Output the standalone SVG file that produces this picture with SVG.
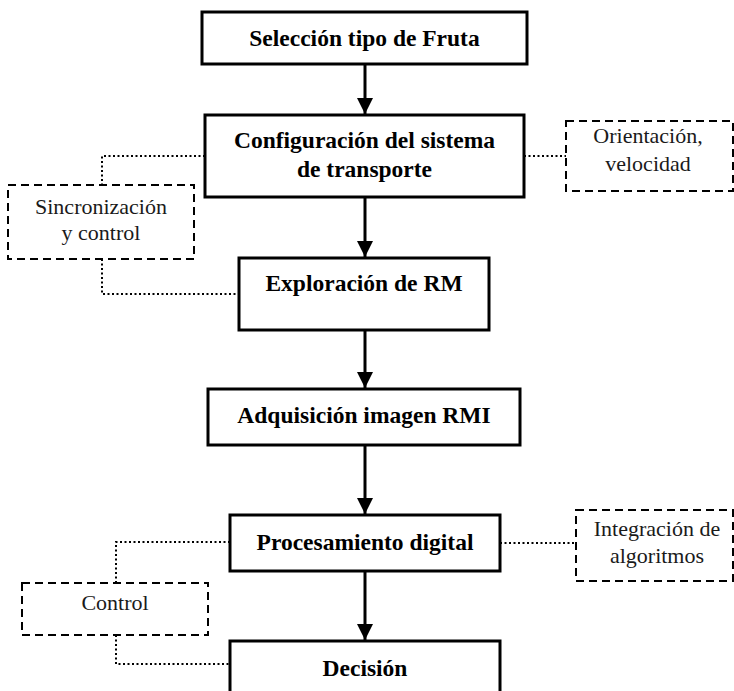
<svg xmlns="http://www.w3.org/2000/svg" width="734" height="691" viewBox="0 0 734 691">
  <style>
    text { font-family: 'Liberation Serif', 'Times New Roman', Times, Tinos, 'Noto Serif', 'DejaVu Serif', serif; fill: #000; text-anchor: middle; }
    .step rect { fill: #fff; stroke: #000; stroke-width: 3; }
    .step text { font-weight: bold; font-size: 23.5px; }
    .note rect { fill: #fff; stroke: #000; stroke-width: 2; stroke-dasharray: 8 5; }
    .note text { font-size: 22px; fill: #1a1a1a; }
    .flow { stroke: #000; stroke-width: 3; fill: none; }
    .link { stroke: #000; stroke-width: 2; stroke-dasharray: 2 2.5; fill: none; }
  </style>
  <defs>
    <marker id="head" markerUnits="userSpaceOnUse" markerWidth="17" markerHeight="16" refX="16" refY="8" orient="auto">
      <path d="M0,0 L16,8 L0,16 Z" fill="#000"/>
    </marker>
  </defs>
  <rect width="734" height="691" fill="#fff"/>

  <!-- connectors -->
  <g id="connectors">
    <!-- main flow -->
    <line class="flow" x1="365" y1="64" x2="365" y2="114" marker-end="url(#head)"/>
    <line class="flow" x1="365" y1="197" x2="365" y2="257" marker-end="url(#head)"/>
    <line class="flow" x1="365" y1="330" x2="365" y2="388" marker-end="url(#head)"/>
    <line class="flow" x1="365" y1="445" x2="365" y2="514" marker-end="url(#head)"/>
    <line class="flow" x1="365" y1="571" x2="365" y2="640" marker-end="url(#head)"/>
    <!-- dotted side links -->
    <polyline class="link" points="205,156 102,156 102,185"/>
    <polyline class="link" points="102,259 102,294 239,294"/>
    <line class="link" x1="524" y1="156" x2="566" y2="156"/>
    <polyline class="link" points="230,542 116,542 116,583"/>
    <polyline class="link" points="116,635 116,664 230,664"/>
    <line class="link" x1="500" y1="543" x2="576" y2="543"/>
  </g>

  <!-- process steps -->
  <g id="seleccion" class="step">
    <rect x="202" y="12" width="325" height="52"/>
    <text x="364.5" y="46">Selección tipo de Fruta</text>
  </g>
  <g id="configuracion" class="step">
    <rect x="205" y="115" width="319" height="82"/>
    <text x="364.5" y="148">Configuración del sistema</text>
    <text x="364.5" y="177">de transporte</text>
  </g>
  <g id="exploracion" class="step">
    <rect x="239" y="258" width="250" height="72"/>
    <text x="364" y="291">Exploración de RM</text>
  </g>
  <g id="adquisicion" class="step">
    <rect x="208" y="389" width="312" height="56"/>
    <text x="364" y="423">Adquisición imagen RMI</text>
  </g>
  <g id="procesamiento" class="step">
    <rect x="230" y="515" width="270" height="56"/>
    <text x="365" y="550">Procesamiento digital</text>
  </g>
  <g id="decision" class="step">
    <rect x="230" y="641" width="270" height="60"/>
    <text x="365" y="676">Decisión</text>
  </g>

  <!-- annotations -->
  <g id="orientacion" class="note">
    <rect x="566" y="121" width="167" height="70"/>
    <text x="648" y="143">Orientación,</text>
    <text x="648" y="171">velocidad</text>
  </g>
  <g id="sincronizacion" class="note">
    <rect x="8" y="185" width="186" height="74"/>
    <text x="101" y="214">Sincronización</text>
    <text x="101" y="240">y control</text>
  </g>
  <g id="integracion" class="note">
    <rect x="576" y="510" width="157" height="71"/>
    <text x="657" y="536">Integración de</text>
    <text x="657" y="563">algoritmos</text>
  </g>
  <g id="control" class="note">
    <rect x="22" y="583" width="186" height="52"/>
    <text x="115" y="610">Control</text>
  </g>
</svg>
